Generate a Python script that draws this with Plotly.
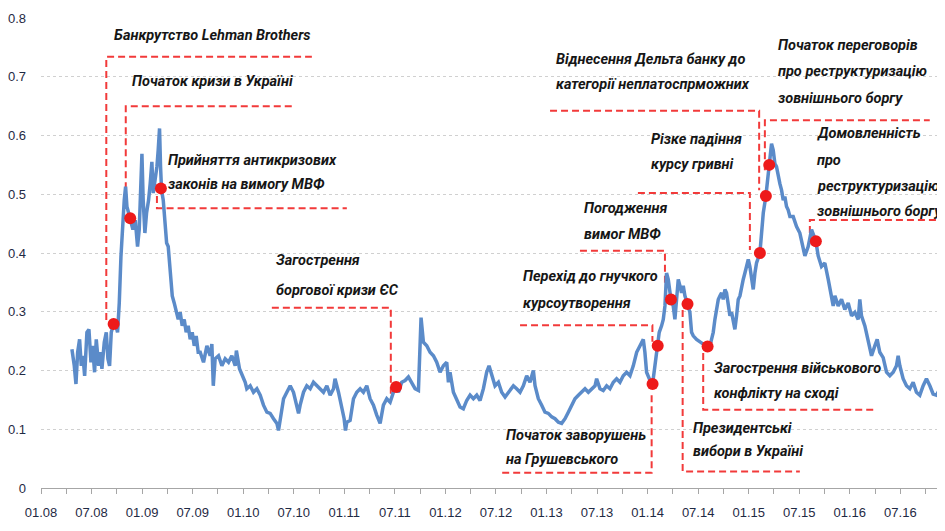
import plotly.graph_objects as go

# ---------------- data (x = months since January 2008) ----------------
months = [
 3.67,3.95,4.15,4.35,4.58,4.78,4.98,5.18,5.45,5.69,5.93,6.12,6.36,6.56,6.84,7.03,7.23,7.51,7.75,7.94,
 8.14,8.34,8.62,8.89,9.09,9.29,9.49,9.69,9.88,10.04,10.2,10.4,10.59,10.91,11.19,11.46,11.66,11.82,11.98,12.13,
 12.33,12.53,12.77,12.96,13.16,13.32,13.56,13.76,13.91,14.07,14.19,14.31,14.51,14.71,14.91,15.1,15.34,15.58,15.81,16.05,
 16.29,16.52,16.76,17.0,17.23,17.47,17.71,17.95,18.19,18.42,18.66,
 18.9,19.29,19.69,20.08,20.28,20.45,20.67,21.07,21.47,21.86,22.26,22.65,23.05,23.19,23.56,23.96,24.24,24.43,24.83,25.22,
 25.62,26.02,26.41,26.81,27.2,27.6,28.0,28.19,28.39,28.79,29.18,29.58,29.97,30.37,30.57,30.76,31.16,31.55,31.95,32.34,
 32.74,33.14,33.53,33.93,34.32,34.72,34.9,35.31,35.71,35.98,36.14,36.3,
 36.69,37.09,37.48,37.88,38.27,38.67,39.06,39.46,39.85,40.25,40.64,41.04,41.44,41.83,42.15,42.42,42.82,43.21,43.61,44.0,
 44.4,44.8,44.99,45.11,45.39,45.79,46.18,46.58,46.97,47.37,47.76,48.16,48.36,48.55,48.95,49.34,49.74,50.13,50.53,50.93,
 51.32,51.72,52.11,52.51,52.9,53.18,53.5,53.89,54.29,
 54.68,55.08,55.47,56.07,56.46,56.86,57.25,57.65,58.04,58.44,58.64,59.03,59.43,59.82,60.22,60.62,61.01,61.41,61.8,62.2,
 62.59,62.99,63.38,63.78,64.17,64.57,64.97,65.36,65.76,65.95,66.35,66.74,67.14,67.53,67.93,68.32,68.72,69.11,69.51,69.91,
 70.3,70.7,71.09,71.49,71.68,71.88,72.2,72.59,72.87,73.14,73.38,
 73.66,73.86,74.06,74.25,74.45,74.77,75.04,75.24,75.44,75.64,75.84,76.03,76.23,76.43,76.74,77.02,77.22,77.42,77.81,78.21,
 78.6,79.12,79.4,79.59,79.79,79.99,80.19,80.39,80.59,80.78,80.98,81.18,81.37,81.57,81.77,81.97,82.16,82.36,82.56,82.76,
 82.96,83.15,83.35,83.55,83.75,83.95,84.14,84.34,84.54,84.74,84.93,85.33,85.53,85.73,86.04,86.32,86.44,86.71,86.91,87.11,
 87.3,87.5,87.7,87.9,88.1,88.29,88.49,88.69,88.89,
 89.28,89.68,90.07,90.47,90.67,91.06,91.46,91.97,92.25,92.64,93.04,93.44,93.83,94.03,94.23,94.62,95.02,95.41,95.81,96.21,
 96.6,97.0,97.19,97.39,97.79,98.18,98.58,98.97,99.25,99.56,99.96,100.36,100.75,101.15,101.54,101.74,101.94,102.33,102.73,103.12,
 103.52,103.91,104.31,104.71,105.1,105.5,105.89,106.29,106.68,106.88,
]
values = [
 0.236,0.208,0.177,0.231,0.253,0.208,0.225,0.191,0.265,0.270,0.214,0.242,0.197,0.253,0.208,0.231,0.203,0.248,0.265,0.220,
 0.208,0.265,0.279,0.276,0.265,0.315,0.394,0.451,0.490,0.513,0.479,0.468,0.459,0.440,0.456,0.411,0.440,0.490,0.569,0.490,
 0.434,0.468,0.490,0.518,0.555,0.502,0.524,0.547,0.575,0.612,0.547,0.507,0.490,0.445,0.417,0.411,0.366,0.327,0.315,0.299,
 0.287,0.299,0.276,0.287,0.265,0.276,0.253,0.265,0.242,0.259,0.231,
 0.231,0.214,0.242,0.225,0.245,0.174,0.220,0.225,0.208,0.220,0.214,0.225,0.208,0.234,0.203,0.191,0.180,0.169,0.174,0.163,
 0.169,0.158,0.141,0.129,0.127,0.118,0.110,0.098,0.118,0.152,0.163,0.174,0.163,0.141,0.127,0.141,0.163,0.174,0.169,0.180,
 0.174,0.169,0.163,0.174,0.158,0.169,0.186,0.163,0.135,0.118,0.098,0.112,
 0.115,0.152,0.163,0.169,0.163,0.174,0.152,0.141,0.124,0.110,0.141,0.152,0.146,0.163,0.172,0.163,0.180,0.183,0.189,0.180,
 0.169,0.166,0.253,0.290,0.248,0.242,0.231,0.225,0.214,0.197,0.208,0.214,0.180,0.197,0.163,0.149,0.138,0.135,0.149,0.158,
 0.152,0.158,0.149,0.169,0.197,0.208,0.191,0.174,0.180,
 0.163,0.155,0.163,0.174,0.169,0.163,0.174,0.191,0.180,0.200,0.174,0.152,0.141,0.129,0.127,0.121,0.118,0.112,0.110,0.118,
 0.129,0.141,0.152,0.158,0.163,0.169,0.163,0.169,0.174,0.186,0.169,0.166,0.174,0.169,0.180,0.186,0.180,0.191,0.197,0.191,
 0.208,0.231,0.242,0.253,0.231,0.197,0.186,0.177,0.208,0.242,0.265,
 0.276,0.287,0.310,0.366,0.355,0.321,0.310,0.287,0.321,0.355,0.344,0.332,0.344,0.327,0.313,0.299,0.265,0.259,0.253,0.248,
 0.245,0.241,0.242,0.253,0.265,0.287,0.310,0.321,0.327,0.332,0.321,0.338,0.332,0.310,0.293,0.299,0.282,0.270,0.293,0.321,
 0.327,0.344,0.355,0.366,0.377,0.389,0.377,0.355,0.338,0.366,0.383,0.400,0.434,0.468,0.497,0.535,0.550,0.586,0.575,0.552,
 0.547,0.530,0.518,0.507,0.490,0.496,0.479,0.473,0.462,
 0.462,0.445,0.434,0.406,0.395,0.411,0.440,0.420,0.395,0.377,0.383,0.355,0.321,0.310,0.327,0.310,0.321,0.304,0.315,0.293,
 0.299,0.287,0.321,0.293,0.276,0.253,0.225,0.242,0.253,0.231,0.222,0.197,0.191,0.197,0.208,0.225,0.208,0.186,0.174,0.169,
 0.180,0.163,0.158,0.174,0.186,0.174,0.160,0.158,0.169,0.174,
]

event_months = [8.62, 10.59, 14.23, 42.15, 72.59, 73.2, 74.77, 76.74, 79.12, 85.33, 86.04, 86.44, 91.97]
event_values = [0.279, 0.459, 0.510, 0.172, 0.177, 0.242, 0.321, 0.313, 0.241, 0.400, 0.497, 0.550, 0.420]

x_tick_vals = [0, 6, 12, 18, 24, 30, 36, 42, 48, 54, 60, 66, 72, 78, 84, 90, 96, 102]
x_tick_text = ["01.08", "07.08", "01.09", "07.09", "01.10", "07.10", "01.11", "07.11", "01.12",
               "07.12", "01.13", "07.13", "01.14", "07.14", "01.15", "07.15", "01.16", "07.16"]
y_tick_vals = [0, 0.1, 0.2, 0.3, 0.4, 0.5, 0.6, 0.7, 0.8]
y_tick_text = ["0", "0.1", "0.2", "0.3", "0.4", "0.5", "0.6", "0.7", "0.8"]

# ---------------- annotation layout (month, value) ----------------
label_lines = [
    ("Банкрутство Lehman Brothers", 8.58, 0.771),
    ("Початок кризи в Україні", 10.68, 0.692),
    ("Прийняття антикризових", 14.95, 0.558),
    ("законів на вимогу МВФ", 14.95, 0.516),
    ("Загострення", 27.79, 0.388),
    ("боргової кризи ЄС", 27.79, 0.337),
    ("Початок заворушень", 55.08, 0.090),
    ("на Грушевського", 55.08, 0.048),
    ("Перехід до гнучкого", 57.06, 0.360),
    ("курсоутворення", 57.06, 0.314),
    ("Погодження", 64.33, 0.476),
    ("вимог МВФ", 64.33, 0.431),
    ("Президентські", 77.22, 0.102),
    ("вибори в Україні", 77.22, 0.062),
    ("Загострення військового", 79.72, 0.204),
    ("конфлікту на сході", 79.72, 0.161),
    ("Різке падіння", 72.28, 0.594),
    ("курсу гривні", 72.28, 0.550),
    ("Віднесення Дельта банку до", 61.01, 0.730),
    ("категорії неплатоспрможних", 61.01, 0.686),
    ("Початок переговорів", 87.31, 0.754),
    ("про реструктуризацію", 87.31, 0.709),
    ("зовнішнього боргу", 87.31, 0.663),
    ("Домовленність", 91.97, 0.604),
    ("про", 91.97, 0.558),
    ("реструктуризацію", 91.97, 0.513),
    ("зовнішнього боргу", 91.97, 0.470),
]

leaders = [
    ([7.75, 7.75, 32.15], [0.286, 0.734, 0.734]),
    ([10.06, 10.06, 29.93], [0.490, 0.650, 0.650]),
    ([13.76, 13.76, 36.3], [0.497, 0.476, 0.476]),
    ([27.4, 41.52, 41.52], [0.307, 0.307, 0.155]),
    ([72.48, 72.48, 54.48], [0.158, 0.026, 0.026]),
    ([56.86, 72.57, 72.57], [0.277, 0.277, 0.249]),
    ([63.97, 74.06, 74.06], [0.404, 0.404, 0.349]),
    ([76.16, 76.16, 90.07], [0.303, 0.028, 0.028]),
    ([78.6, 78.6, 98.97], [0.230, 0.133, 0.133]),
    ([70.85, 84.14, 84.14], [0.502, 0.502, 0.405]),
    ([60.42, 85.24, 85.24], [0.642, 0.642, 0.507]),
    ([85.92, 85.92, 105.49], [0.541, 0.626, 0.626]),
    ([91.26, 91.26, 107.27], [0.434, 0.456, 0.456]),
]

RED_DASH = "#F23A3A"
TEXT_FONT = dict(family="Roboto, sans-serif", size=14.5, color="#161616",
                 weight="bold", style="italic")
TICK_FONT = dict(family="Liberation Sans, Arial, sans-serif", size=13, color="#1F2A44")

fig = go.Figure()

for lx, ly in leaders:
    fig.add_trace(go.Scatter(x=lx, y=ly, mode="lines", hoverinfo="skip", showlegend=False,
                             line=dict(color=RED_DASH, width=2, dash="7px,4px")))

fig.add_trace(go.Scatter(x=months, y=values, mode="lines", showlegend=False,
                         line=dict(color="#5B8BC9", width=3.5)))

fig.add_trace(go.Scatter(x=event_months, y=event_values, mode="markers", showlegend=False,
                         marker=dict(color="#EE1A1A", size=12, line=dict(width=0))))

for txt, lx, ly in label_lines:
    fig.add_annotation(x=lx, y=ly, xref="x", yref="y", text=txt, showarrow=False,
                       xanchor="left", yanchor="middle", font=TEXT_FONT, borderpad=0)

# the page body has an 8px margin, so the figure is sized to end at the window edge
fig.update_layout(
    width=937, height=523,
    margin=dict(l=33, r=0, t=10, b=43),
    paper_bgcolor="white", plot_bgcolor="white",
    showlegend=False,
    xaxis=dict(range=[0, 107.3], tickmode="array", tickvals=x_tick_vals, ticktext=x_tick_text,
               automargin=False,
               showgrid=False, zeroline=False, showline=True, linecolor="#A6A6A6", linewidth=1,
               ticks="outside", ticklen=5, tickcolor="#A6A6A6", ticklabelstandoff=7,
               tickfont=TICK_FONT,
               minor=dict(tickmode="linear", tick0=0, dtick=3, ticks="outside", ticklen=5,
                          tickcolor="#A6A6A6", showgrid=False)),
    yaxis=dict(range=[0, 0.8], tickmode="array", tickvals=y_tick_vals, ticktext=y_tick_text,
               automargin=False,
               showgrid=True, gridcolor="#D0D0D0", griddash="dot", gridwidth=1,
               zeroline=False, showline=False, ticks="", ticklabelstandoff=14,
               tickfont=TICK_FONT),
)

fig.write_html("out.html")
